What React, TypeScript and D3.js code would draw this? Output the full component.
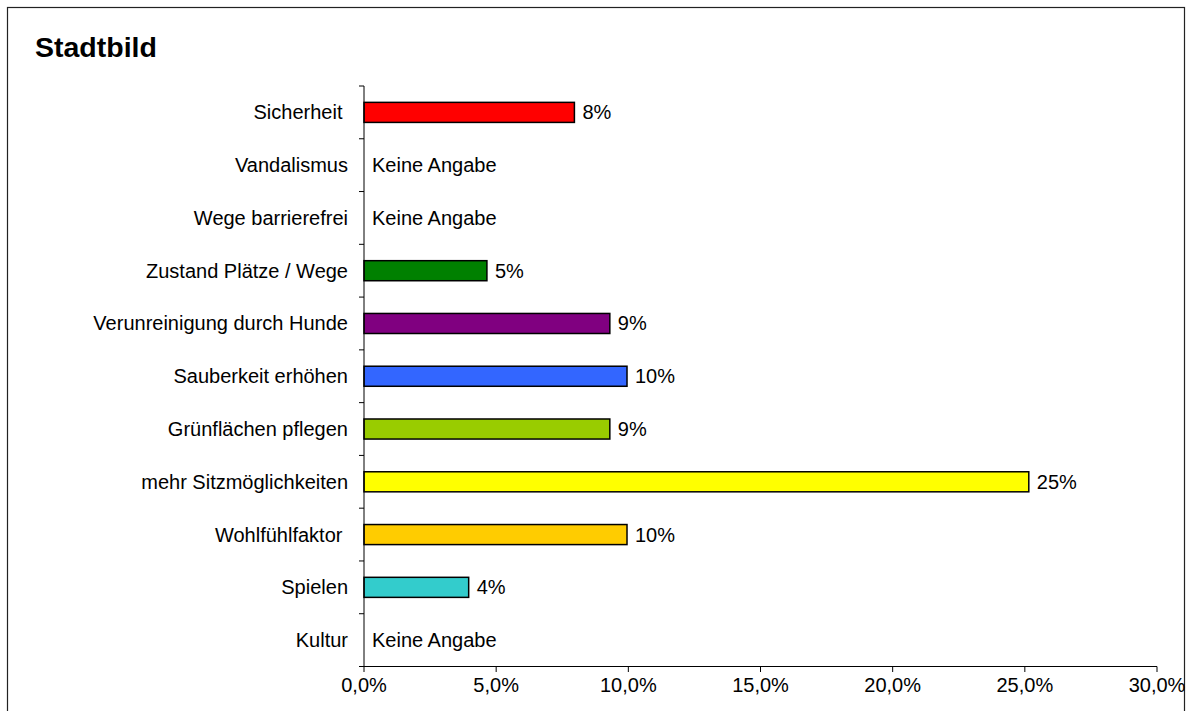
import React from "react";
import * as d3 from "d3";

const categories = [
  "Sicherheit ",
  "Vandalismus",
  "Wege barrierefrei",
  "Zustand Plätze / Wege",
  "Verunreinigung durch Hunde",
  "Sauberkeit erhöhen",
  "Grünflächen pflegen",
  "mehr Sitzmöglichkeiten",
  "Wohlfühlfaktor ",
  "Spielen",
  "Kultur",
];
const values: (number | null)[] = [7.96, null, null, 4.65, 9.3, 9.95, 9.3, 25.15, 9.95, 3.96, null];
const valueLabels = ["8%", "Keine Angabe", "Keine Angabe", "5%", "9%", "10%", "9%", "25%", "10%", "4%", "Keine Angabe"];
const colors = ["#FF0000", "", "", "#008000", "#800080", "#3366FF", "#99CC00", "#FFFF00", "#FFCC00", "#33CCCC", ""];
const xTicks = [0, 5, 10, 15, 20, 25, 30];
const title = "Stadtbild";

export default function App() {
  const W = 1188, H = 711;
  const x = d3.scaleLinear().domain([0, 30]).range([364, 1157]);
  const y = d3.scaleBand().domain(categories).range([86, 666.5]).paddingInner(0.62).paddingOuter(0.31);
  const band = d3.scaleBand().domain(categories).range([86, 666.5]);
  const font = "Liberation Sans, Arial, sans-serif";
  const fs = 20;
  return (
    <svg width={W} height={H} style={{ position: "fixed", left: 0, top: 0, background: "#fff" }} fontFamily={font}>
      <rect x={7.5} y={7.5} width={1177} height={H + 10} fill="#fff" stroke="#222" strokeWidth={1.2} />
      <text x={35} y={57} fontSize={28.5} fontWeight="bold">{title}</text>
      {categories.map((c, i) => {
        const v = values[i];
        const cy = (band(c) as number) + band.bandwidth() / 2;
        return (
          <g key={c}>
            {v !== null && (
              <rect x={x(0)} y={y(c)} width={x(v) - x(0)} height={y.bandwidth()} fill={colors[i]} stroke="#000" strokeWidth={1.5} />
            )}
            <text x={v !== null ? x(v) + 8 : x(0) + 8} y={cy} dy="0.35em" fontSize={fs}>{valueLabels[i]}</text>
            <text x={348} y={cy} dy="0.35em" fontSize={fs} textAnchor="end" style={{ whiteSpace: "pre" }}>{c}</text>
          </g>
        );
      })}
      {/* y axis */}
      <line x1={364} x2={364} y1={86} y2={666.5} stroke="#000" strokeWidth={1} />
      {categories.map((c) => (
        <line key={c} x1={359} x2={364} y1={band(c) as number} y2={band(c) as number} stroke="#000" />
      ))}
      <line x1={359} x2={364} y1={666.5} y2={666.5} stroke="#000" />
      {/* x axis */}
      <line x1={364} x2={1157} y1={666.5} y2={666.5} stroke="#000" strokeWidth={1} />
      {xTicks.map((t) => (
        <g key={t}>
          <line x1={x(t)} x2={x(t)} y1={666.5} y2={672} stroke="#000" />
          <text x={x(t)} y={692} fontSize={fs} textAnchor="middle">{t.toFixed(1).replace(".", ",") + "%"}</text>
        </g>
      ))}
    </svg>
  );
}
